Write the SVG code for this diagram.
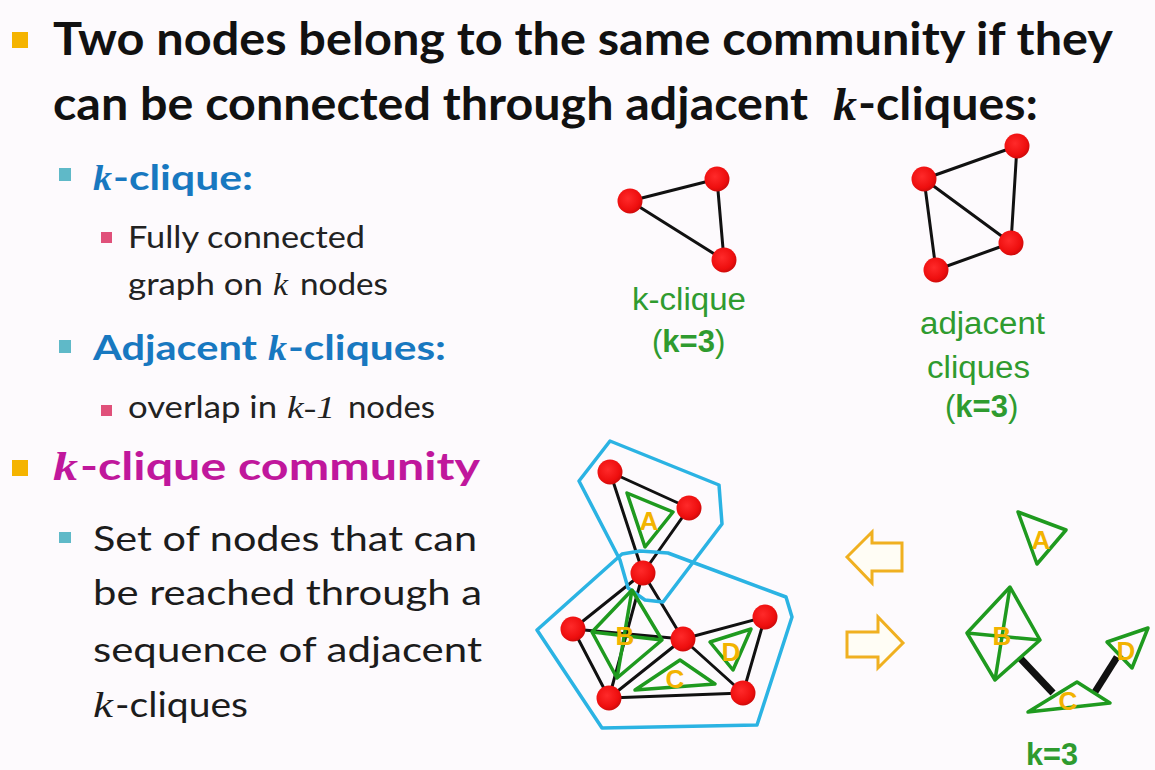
<svg xmlns="http://www.w3.org/2000/svg" width="1155" height="770" viewBox="0 0 1155 770">
  <defs>
    <radialGradient id="redBall" cx="0.42" cy="0.4" r="0.62">
      <stop offset="0" stop-color="#ff2a2a"/>
      <stop offset="0.75" stop-color="#ee0e0e"/>
      <stop offset="1" stop-color="#cc0a0a"/>
    </radialGradient>
    <style>
      .bg { fill: #fdfafd; }
      .h1 { font-family: Lato, "Open Sans", "Liberation Sans", sans-serif; font-weight: 700; font-size: 46px; fill: #111; }
      .sub { font-family: Lato, "Open Sans", "Liberation Sans", sans-serif; font-weight: 700; font-size: 35px; fill: #1878c0; }
      .mag { font-family: Lato, "Open Sans", "Liberation Sans", sans-serif; font-weight: 700; font-size: 39px; fill: #c0179c; }
      .body { font-family: Lato, "Open Sans", "Liberation Sans", sans-serif; font-size: 35px; fill: #1c1c1c; }
      .small { font-family: Lato, "Open Sans", "Liberation Sans", sans-serif; font-size: 31px; fill: #222; }
      .it { font-family: "Liberation Serif", "DejaVu Serif", serif; font-style: italic; }
      .gl { font-family: "Liberation Sans", Arial, sans-serif; font-size: 31px; fill: #2f9b2f; }
      .glb { font-weight: 700; }
      .lab { font-family: "Liberation Sans", Arial, sans-serif; font-size: 26px; font-weight: 700; fill: #f2b300; text-anchor: middle; }
      .edge { stroke: #111; stroke-width: 3; fill: none; stroke-linecap: round; }
      .thick { stroke: #111; stroke-width: 7; fill: none; }
      .node { fill: url(#redBall); }
      .hull { fill: none; stroke: #2bb3e3; stroke-width: 3.5; stroke-linejoin: round; }
      .clq { fill: none; stroke: #1f9a1f; stroke-width: 3.5; stroke-linejoin: round; }
      .arrow { fill: #fffdf5; stroke: #f0b020; stroke-width: 3; stroke-linejoin: miter; }
      .b-or { fill: #f5b400; }
      .b-te { fill: #5fb9c8; }
      .b-pk { fill: #e0507a; }
    </style>
  </defs>

  <rect class="bg" x="0" y="0" width="1155" height="770"/>

  <!-- bullet list text -->
  <g id="bullets">
    <rect class="b-or" x="12" y="32" width="16" height="16"/>
    <text class="h1" x="53" y="55" textLength="1060" lengthAdjust="spacingAndGlyphs">Two nodes belong to the same community if they</text>
    <text class="h1" x="53" y="120" textLength="755" lengthAdjust="spacingAndGlyphs">can be connected through adjacent</text>
    <text class="h1 it" x="833" y="120" font-size="50" font-weight="400" textLength="24" lengthAdjust="spacingAndGlyphs">k</text>
    <text class="h1" x="858" y="120" textLength="180" lengthAdjust="spacingAndGlyphs">-cliques:</text>

    <rect class="b-te" x="59" y="168" width="12" height="13"/>
    <text class="sub it" x="93" y="190" font-size="41" textLength="19" lengthAdjust="spacingAndGlyphs">k</text>
    <text class="sub" x="113" y="190" textLength="140" lengthAdjust="spacingAndGlyphs">-clique:</text>

    <rect class="b-pk" x="101" y="232" width="11" height="11"/>
    <text class="small" x="128" y="248" textLength="237" lengthAdjust="spacingAndGlyphs">Fully connected</text>
    <text class="small" x="128" y="295" textLength="135" lengthAdjust="spacingAndGlyphs">graph on</text>
    <text class="small it" x="273" y="295" font-size="34" textLength="15" lengthAdjust="spacingAndGlyphs">k</text>
    <text class="small" x="300" y="295" textLength="88" lengthAdjust="spacingAndGlyphs">nodes</text>

    <rect class="b-te" x="59" y="340" width="12" height="13"/>
    <text class="sub" x="93" y="360" textLength="164" lengthAdjust="spacingAndGlyphs">Adjacent</text>
    <text class="sub it" x="268" y="360" font-size="41" textLength="19" lengthAdjust="spacingAndGlyphs">k</text>
    <text class="sub" x="288" y="360" textLength="158" lengthAdjust="spacingAndGlyphs">-cliques:</text>

    <rect class="b-pk" x="101" y="405" width="11" height="11"/>
    <text class="small" x="128" y="418" textLength="149" lengthAdjust="spacingAndGlyphs">overlap in</text>
    <text class="small it" x="287" y="418" font-size="34" textLength="48" lengthAdjust="spacingAndGlyphs">k-1</text>
    <text class="small" x="348" y="418" textLength="87" lengthAdjust="spacingAndGlyphs">nodes</text>

    <rect class="b-or" x="12" y="460" width="16" height="16"/>
    <text class="mag it" x="53" y="480" font-size="46" textLength="25" lengthAdjust="spacingAndGlyphs">k</text>
    <text class="mag" x="80" y="480" textLength="400" lengthAdjust="spacingAndGlyphs">-clique community</text>

    <rect class="b-te" x="59" y="532" width="12" height="11"/>
    <text class="body" x="93" y="551" textLength="384" lengthAdjust="spacingAndGlyphs">Set of nodes that can</text>
    <text class="body" x="93" y="605" textLength="389" lengthAdjust="spacingAndGlyphs">be reached through a</text>
    <text class="body" x="93" y="662" textLength="389" lengthAdjust="spacingAndGlyphs">sequence of adjacent</text>
    <text class="body it" x="93" y="717" font-size="39" textLength="20" lengthAdjust="spacingAndGlyphs">k</text>
    <text class="body" x="115" y="717" textLength="133" lengthAdjust="spacingAndGlyphs">-cliques</text>
  </g>

  <!-- single 3-clique example -->
  <g id="kclique-example">
    <line class="edge" x1="630" y1="201" x2="717" y2="179"/>
    <line class="edge" x1="630" y1="201" x2="724" y2="260"/>
    <line class="edge" x1="717" y1="179" x2="724" y2="260"/>
    <circle class="node" cx="630" cy="201" r="12.5"/>
    <circle class="node" cx="717" cy="179" r="12.5"/>
    <circle class="node" cx="724" cy="260" r="12.5"/>
    <text class="gl" x="632" y="310" textLength="114" lengthAdjust="spacingAndGlyphs">k-clique</text>
    <text class="gl" x="652" y="352">(<tspan class="glb">k=3</tspan>)</text>
  </g>

  <!-- two adjacent 3-cliques sharing an edge -->
  <g id="adjacent-example">
    <line class="edge" x1="924" y1="179" x2="1017" y2="146"/>
    <line class="edge" x1="1017" y1="146" x2="1011" y2="243"/>
    <line class="edge" x1="924" y1="179" x2="1011" y2="243"/>
    <line class="edge" x1="924" y1="179" x2="936" y2="270"/>
    <line class="edge" x1="936" y1="270" x2="1011" y2="243"/>
    <circle class="node" cx="924" cy="179" r="12.5"/>
    <circle class="node" cx="1017" cy="146" r="12.5"/>
    <circle class="node" cx="1011" cy="243" r="12.5"/>
    <circle class="node" cx="936" cy="270" r="12.5"/>
    <text class="gl" x="920" y="334" textLength="125" lengthAdjust="spacingAndGlyphs">adjacent</text>
    <text class="gl" x="927" y="378" textLength="103" lengthAdjust="spacingAndGlyphs">cliques</text>
    <text class="gl" x="945" y="417">(<tspan class="glb">k=3</tspan>)</text>
  </g>

  <!-- community graph with its two communities -->
  <g id="community-graph">
    <g id="connectors">
      <line class="edge" x1="610" y1="472" x2="689" y2="508"/>
      <line class="edge" x1="610" y1="472" x2="643" y2="573"/>
      <line class="edge" x1="689" y1="508" x2="643" y2="573"/>
      <line class="edge" x1="643" y1="573" x2="573" y2="629"/>
      <line class="edge" x1="643" y1="573" x2="683" y2="639"/>
      <line class="edge" x1="643" y1="573" x2="609" y2="698"/>
      <line class="edge" x1="573" y1="629" x2="683" y2="639"/>
      <line class="edge" x1="573" y1="629" x2="609" y2="698"/>
      <line class="edge" x1="683" y1="639" x2="609" y2="698"/>
      <line class="edge" x1="683" y1="639" x2="765" y2="617"/>
      <line class="edge" x1="683" y1="639" x2="743" y2="693"/>
      <line class="edge" x1="765" y1="617" x2="743" y2="693"/>
      <line class="edge" x1="609" y1="698" x2="743" y2="693"/>
    </g>
    <g id="hulls">
      <polygon class="hull" points="610,441 719,485 722,524 663,602 645,600 628,588 620,560 579,481"/>
      <polygon class="hull" points="537,630 622,554 640,551 668,553 692,562 786,597 792,617 757,725 602,728"/>
    </g>
    <g id="clique-A">
      <polygon class="clq" points="627,493 673,512 645,547"/>
      <text class="lab" x="649" y="530">A</text>
    </g>
    <g id="clique-B">
      <polygon class="clq" points="632,590 662,640 617,678 592,632"/>
      <line class="clq" x1="592" y1="632" x2="662" y2="640"/>
      <line class="clq" x1="632" y1="590" x2="617" y2="678"/>
      <text class="lab" x="625" y="645">B</text>
    </g>
    <g id="clique-C">
      <polygon class="clq" points="680,660 715,684 635,690"/>
      <text class="lab" x="675" y="688">C</text>
    </g>
    <g id="clique-D">
      <polygon class="clq" points="710,642 751,629 733,670"/>
      <text class="lab" x="731" y="661">D</text>
    </g>
    <g id="nodes">
      <circle class="node" cx="610" cy="472" r="12.5"/>
      <circle class="node" cx="689" cy="508" r="12.5"/>
      <circle class="node" cx="643" cy="573" r="12.5"/>
      <circle class="node" cx="573" cy="629" r="12.5"/>
      <circle class="node" cx="683" cy="639" r="12.5"/>
      <circle class="node" cx="765" cy="617" r="12.5"/>
      <circle class="node" cx="609" cy="698" r="12.5"/>
      <circle class="node" cx="743" cy="693" r="12.5"/>
    </g>
  </g>

  <!-- two-way hollow arrows -->
  <g id="arrow-left">
    <polygon class="arrow" points="847,557 872,532 872,543 902,543 902,571 872,571 872,583"/>
  </g>
  <g id="arrow-right">
    <polygon class="arrow" points="847,632 878,632 878,617 903,643 878,668 878,657 847,657"/>
  </g>

  <!-- clique graph -->
  <g id="clique-graph">
    <g id="clique-links">
      <line class="thick" x1="1020" y1="658" x2="1053" y2="693"/>
      <line class="thick" x1="1095" y1="692" x2="1117" y2="657"/>
    </g>
    <g id="cg-A">
      <polygon class="clq" points="1018,512 1066,530 1037,564"/>
      <text class="lab" x="1041" y="549">A</text>
    </g>
    <g id="cg-B">
      <polygon class="clq" points="1010,587 1040,640 995,680 967,633"/>
      <line class="clq" x1="967" y1="633" x2="1040" y2="640"/>
      <line class="clq" x1="1010" y1="587" x2="995" y2="680"/>
      <text class="lab" x="1002" y="645">B</text>
    </g>
    <g id="cg-C">
      <polygon class="clq" points="1077,682 1110,703 1028,712"/>
      <text class="lab" x="1068" y="710">C</text>
    </g>
    <g id="cg-D">
      <polygon class="clq" points="1107,642 1148,628 1132,668"/>
      <text class="lab" x="1126" y="660">D</text>
    </g>
    <text class="gl glb" x="1026" y="765" font-size="29" textLength="52" lengthAdjust="spacingAndGlyphs">k=3</text>
  </g>
</svg>
